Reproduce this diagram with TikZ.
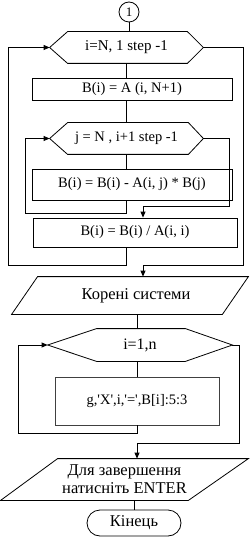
\documentclass[tikz,border=0pt]{standalone}
\usepackage{fontspec}
\setmainfont{Liberation Serif}
\usetikzlibrary{arrows.meta}
\begin{document}
\begin{tikzpicture}[x=1pt,y=-1pt,
  line width=0.8pt,
  arr/.style={-{Triangle[length=6pt,width=5pt]}},
  cyr/.style={inner sep=0pt,font=\fontsize{16.5}{18}\selectfont,align=center},
  procbox/.style={draw,rectangle,inner sep=0pt,font=\fontsize{14.5}{16}\selectfont},
  hexarea/.style={rectangle,inner sep=0pt,font=\fontsize{14.5}{16}\selectfont}]
\useasboundingbox (0,0) rectangle (249,548);
% connector circle
\node[draw,circle,minimum size=20pt,inner sep=0pt,font=\fontsize{13}{14}\selectfont] (c1) at (129,12) {1};
% outer loop hexagon
\node[hexarea,minimum width=153pt,minimum height=31pt,font=\fontsize{15}{16}\selectfont] (h1) at (126.5,47.5) {i=N, 1 step -1};
\draw ([xshift=18pt]h1.north west) -- ([xshift=-16pt]h1.north east) -- (h1.east)
  -- ([xshift=-16pt]h1.south east) -- ([xshift=18pt]h1.south west) -- (h1.west) -- cycle;
\node[procbox,minimum width=200pt,minimum height=22pt] (b1) at (132,89) {B(i) = A (i, N+1)};
% inner loop hexagon
\node[hexarea,minimum width=153pt,minimum height=31pt] (h2) at (126.5,138.5) {j = N , i+1 step -1};
\draw ([xshift=18pt]h2.north west) -- ([xshift=-15pt]h2.north east) -- (h2.east)
  -- ([xshift=-15pt]h2.south east) -- ([xshift=18pt]h2.south west) -- (h2.west) -- cycle;
\node[procbox,minimum width=200pt,minimum height=31pt] (b2) at (132,184.5) {B(i) = B(i) - A(i, j) * B(j)};
\node[procbox,minimum width=204pt,minimum height=29pt] (b3) at (135,232.5) {B(i) = B(i) / A(i, i)};
% output parallelogram
\node[cyr,minimum width=236pt,minimum height=37pt] (p1) at (130,295.5) {\hspace*{12pt}Корені системи};
\draw (p1.south west) -- ([xshift=-26pt]p1.south east) -- (p1.north east) -- ([xshift=26pt]p1.north west) -- cycle;
% print loop hexagon
\node[hexarea,minimum width=184pt,minimum height=32pt,font=\fontsize{16}{18}\selectfont] (h3) at (140,345) {i=1,n};
\draw ([xshift=49pt]h3.north west) -- ([xshift=-47pt]h3.north east) -- (h3.east)
  -- ([xshift=-47pt]h3.south east) -- ([xshift=49pt]h3.south west) -- (h3.west) -- cycle;
\node[procbox,draw=black!75,minimum width=164pt,minimum height=48pt] (b4) at (137,401) {\raisebox{-4pt}{g,\textquotesingle X\textquotesingle,i,\textquotesingle=\textquotesingle,B[i]:5:3}};
% final output
\node[cyr,minimum width=247pt,minimum height=41pt] (p2) at (124.5,479.5) {Для завершення\\натисніть ENTER};
\draw (p2.south west) -- ([xshift=-60pt]p2.south east) -- (p2.north east) -- ([xshift=57pt]p2.north west) -- cycle;
\node[draw,rectangle,rounded corners=13pt,minimum width=94pt,minimum height=26pt,cyr] (t1) at (134,523) {Кінець};
% loop corner coordinates
\coordinate (l1) at (8,265);
\coordinate (r1) at (243,265);
\coordinate (l2) at (25,213);
\coordinate (r2) at (229,206);
\coordinate (l3) at (18,433);
\coordinate (r3) at (239,443);
% connectors
\draw (c1.south) -- (c1.south |- h1.north);
\draw (h1.south) -- (h1.south |- b1.north);
\draw (h1.south |- b1.south) -- (h1.south |- h2.north);
\draw (h2.south) -- (h2.south |- b2.north);
\draw[arr] (h2.south |- b2.south) |- (l2) |- (h2.west);
\draw[arr] (h2.east) -| (r2) -| ([xshift=8pt]b3.north);
\draw[arr] (h1.south |- b3.south) |- (l1) |- (h1.west);
\draw[arr] (h1.east) -| (r1) -| ([xshift=13pt]p1.north);
\draw (p1.south -| b4.north) -- (h3.north -| b4.north);
\draw (h3.south -| b4.north) -- (b4.north);
\draw[arr] (b4.south) |- (l3) |- (h3.west);
\draw[arr] (h3.east) -| (r3) -| (p2.north -| b4.south);
\draw (p2.south -| t1.north) -- (t1.north);
\end{tikzpicture}
\end{document}
